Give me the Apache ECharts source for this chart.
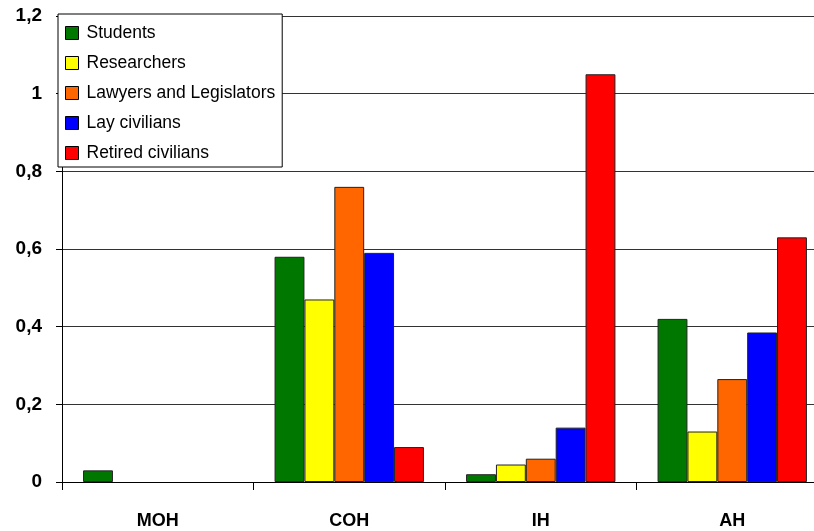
<!DOCTYPE html>
<html>
<head>
<meta charset="utf-8">
<script src="https://cdn.jsdelivr.net/npm/echarts@6/dist/echarts.min.js"></script>
<style>
  html, body { margin: 0; padding: 0; background: #fff; overflow: hidden; }
  /* plot runs a little past the right edge in the original, so the div is wider than the window */
  #chart { width: 828px; height: 531px; }
</style>
</head>
<body>
<div id="chart"></div>
<script>
var categories = ['MOH', 'COH', 'IH', 'AH'];
var students = [0.03, 0.58, 0.02, 0.42];
var researchers = [0, 0.47, 0.045, 0.13];
var lawyers = [0, 0.76, 0.06, 0.265];
var layCivilians = [0, 0.59, 0.14, 0.385];
var retired = [0, 0.09, 1.05, 0.63];

var seriesNames = ['Students', 'Researchers', 'Lawyers and Legislators', 'Lay civilians', 'Retired civilians'];
var seriesData = [students, researchers, lawyers, layCivilians, retired];
var colors = ['#007800', '#ffff00', '#ff6600', '#0000ff', '#ff0000'];

var chart = echarts.init(document.getElementById('chart'));

var series = seriesNames.map(function (name, i) {
    return {
        name: name,
        type: 'bar',
        data: seriesData[i].map(function (v) { return v === 0 ? null : v; }),
        barGap: 0,
        barCategoryGap: '22%',
        itemStyle: {
            color: colors[i],
            borderColor: '#222',
            borderWidth: 1
        }
    };
});

chart.setOption({
    animation: false,
    color: colors,
    grid: {
        left: 62,
        right: 0,
        top: 16,
        bottom: 49
    },
    legend: {
        orient: 'vertical',
        left: 58,
        top: 14,
        backgroundColor: '#fff',
        borderColor: '#000',
        borderWidth: 1,
        padding: [10, 7, 5, 7],
        itemGap: 12,
        itemWidth: 13,
        itemHeight: 13,
        icon: 'rect',
        itemStyle: { borderColor: '#000', borderWidth: 1 },
        textStyle: {
            fontFamily: 'Liberation Sans',
            fontSize: 17.5,
            lineHeight: 18,
            color: '#000',
            padding: [0, 0, 0, 3]
        },
        data: seriesNames
    },
    xAxis: {
        type: 'category',
        data: categories,
        axisLine: { lineStyle: { color: '#000', width: 1 } },
        axisTick: { show: true, length: 8, lineStyle: { color: '#000' } },
        axisLabel: {
            fontFamily: 'Liberation Sans',
            fontWeight: 'bold',
            fontSize: 18,
            color: '#000',
            margin: 30
        }
    },
    yAxis: {
        type: 'value',
        min: 0,
        max: 1.2,
        interval: 0.2,
        axisLine: { show: true, lineStyle: { color: '#000' } },
        axisTick: { show: true, length: 6, lineStyle: { color: '#000' } },
        splitLine: { lineStyle: { color: '#333', width: 1 } },
        axisLabel: {
            fontFamily: 'Liberation Sans',
            fontWeight: 'bold',
            fontSize: 19,
            color: '#000',
            margin: 20,
            formatter: function (v) {
                return String(Math.round(v * 10) / 10).replace('.', ',');
            }
        }
    },
    series: series
});
</script>
</body>
</html>
